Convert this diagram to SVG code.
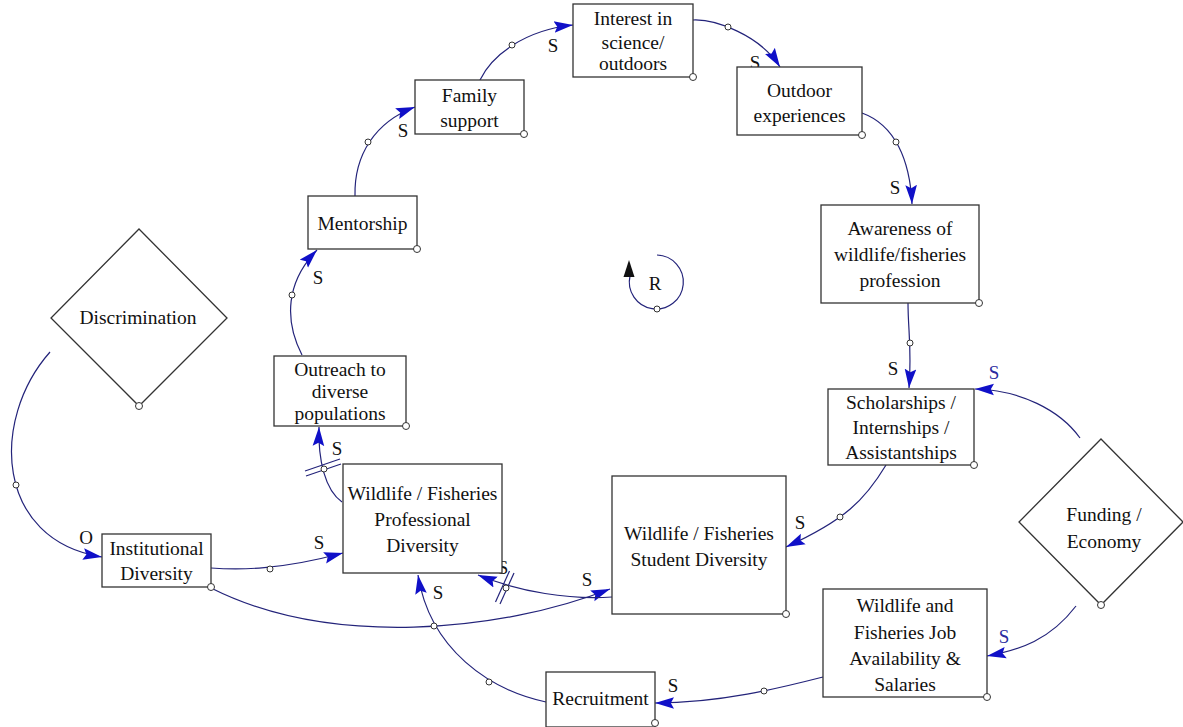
<svg xmlns="http://www.w3.org/2000/svg" width="1183" height="727" viewBox="0 0 1183 727">
<style>
.box{fill:#fff;stroke:#333;stroke-width:1.3}
.t{font-size:19.5px;fill:#111;text-anchor:middle}
.lbl{font-size:19px;fill:#111;text-anchor:middle}
.lblb{font-size:19px;fill:#2a2aa0;text-anchor:middle}
.c{fill:none;stroke:#23237a;stroke-width:1.2;marker-end:url(#ah)}
.n{fill:none;stroke:#23237a;stroke-width:1.2}
.dot{fill:#fff;stroke:#333;stroke-width:1}
.dl{stroke:#23237a;stroke-width:1.2}
</style>
<defs>
<marker id="ah" markerUnits="userSpaceOnUse" markerWidth="19" markerHeight="13" viewBox="0 0 18 12" refX="18" refY="6" orient="auto">
<path d="M0,0.5 L18,6 L0,11.5 L3,6 z" fill="#1010c8"/>
</marker>
</defs>
<rect width="1183" height="727" fill="#fff"/>

<g font-family="Liberation Serif, DejaVu Serif, serif">
<g id="connectors">
<!-- Mentorship -> Family support -->
<path class="c" d="M355,196 C354,155 375,122 415,107"/>
<circle class="dot" cx="368" cy="142" r="3"/>
<text class="lbl" x="403" y="137">S</text>
<!-- Family support -> Interest -->
<path class="c" d="M480,80 C492,55 525,30 573,25"/>
<circle class="dot" cx="512" cy="45" r="3"/>
<text class="lbl" x="553" y="52">S</text>
<!-- Interest -> Outdoor -->
<path class="c" d="M693,20 C715,19 760,35 780,67"/>
<circle class="dot" cx="728" cy="27" r="3"/>
<text class="lbl" x="755" y="69">S</text>
<!-- Outdoor -> Awareness -->
<path class="c" d="M862,113 C895,125 910,160 912,204"/>
<circle class="dot" cx="896" cy="142" r="3"/>
<text class="lbl" x="895" y="194">S</text>
<!-- Awareness -> Scholarships -->
<path class="c" d="M908,303 C908,330 912,350 909,388"/>
<circle class="dot" cx="910" cy="343" r="3"/>
<text class="lbl" x="893" y="375">S</text>
<!-- Funding -> Scholarships -->
<path class="c" d="M1080,438 C1060,410 1020,390 975,389"/>
<text class="lblb" x="994" y="379">S</text>
<!-- Scholarships -> Student Diversity -->
<path class="c" d="M886,465 C865,500 845,520 786,547"/>
<circle class="dot" cx="840" cy="517" r="3"/>
<text class="lbl" x="800" y="529">S</text>
<!-- Funding -> Job -->
<path class="c" d="M1076,606 C1050,640 1020,650 987,656"/>
<text class="lblb" x="1004" y="643">S</text>
<!-- Job -> Recruitment -->
<path class="c" d="M823,677 C780,688 720,703 655,703"/>
<circle class="dot" cx="764" cy="691" r="3"/>
<text class="lbl" x="673" y="692">S</text>
<!-- Recruitment -> Professional -->
<path class="c" d="M546,702 C490,690 430,650 418,575"/>
<circle class="dot" cx="489" cy="682" r="3"/>
<text class="lbl" x="438" y="599">S</text>
<!-- Institutional -> Professional -->
<path class="c" d="M211,568 C240,570 280,570 343,553"/>
<circle class="dot" cx="270" cy="569" r="3"/>
<text class="lbl" x="319" y="549">S</text>
<!-- Institutional -> Student -->
<path class="c" d="M211,588 C330,648 500,632 610,589"/>
<circle class="dot" cx="434" cy="626" r="3"/>
<text class="lbl" x="587" y="586">S</text>
<!-- Student -> Professional (delay) -->
<path class="c" d="M612,597 C570,600 520,592 478,575"/>
<line class="dl" x1="500" y1="604" x2="514" y2="573"/>
<line class="dl" x1="495.5" y1="602" x2="509.5" y2="571"/>
<circle class="dot" cx="506" cy="588" r="3"/>
<text class="lbl" x="503" y="574">S</text>
<!-- Professional -> Outreach (delay) -->
<path class="c" d="M342,502 C325,490 318,460 319,427"/>
<line class="dl" x1="306" y1="476" x2="341" y2="464"/>
<line class="dl" x1="305" y1="471" x2="340" y2="459"/>
<circle class="dot" cx="324" cy="469" r="3"/>
<text class="lbl" x="337" y="455">S</text>
<!-- Outreach -> Mentorship -->
<path class="c" d="M302,355 C284,320 286,282 317,250"/>
<circle class="dot" cx="292" cy="295" r="3"/>
<text class="lbl" x="318" y="284">S</text>
<!-- Discrimination -> Institutional -->
<path class="c" d="M50,352 C-10,420 -5,540 102,557"/>
<circle class="dot" cx="16" cy="485" r="3"/>
<text class="lbl" x="86" y="544">O</text>
</g>

<g id="loop-R">
<path class="n" d="M657,255 A27,27 0 1 1 630,276" stroke="#222"/>
<polygon points="629,260 623.5,277 634.5,277" fill="#111"/>
<circle class="dot" cx="657" cy="309" r="3"/>
<text class="lbl" x="655" y="290">R</text>
</g>

<g id="interest">
<rect class="box" x="573" y="4" width="120" height="73"/>
<text class="t" x="633" y="25">Interest in</text>
<text class="t" x="633" y="49">science/</text>
<text class="t" x="633" y="70">outdoors</text>
<circle class="dot" cx="693" cy="77" r="3.5"/>
</g>
<g id="family">
<rect class="box" x="415" y="80" width="109" height="54"/>
<text class="t" x="469.5" y="102">Family</text>
<text class="t" x="469.5" y="127">support</text>
<circle class="dot" cx="524" cy="134" r="3.5"/>
</g>
<g id="outdoor">
<rect class="box" x="737" y="67" width="125" height="68"/>
<text class="t" x="799.5" y="97">Outdoor</text>
<text class="t" x="799.5" y="122">experiences</text>
<circle class="dot" cx="862" cy="135" r="3.5"/>
</g>
<g id="awareness">
<rect class="box" x="821" y="205" width="158" height="98"/>
<text class="t" x="900" y="235">Awareness of</text>
<text class="t" x="900" y="261">wildlife/fisheries</text>
<text class="t" x="900" y="287">profession</text>
<circle class="dot" cx="979" cy="303" r="3.5"/>
</g>
<g id="scholarships">
<rect class="box" x="828" y="389" width="146" height="76"/>
<text class="t" x="901" y="409">Scholarships /</text>
<text class="t" x="901" y="434">Internships /</text>
<text class="t" x="901" y="459">Assistantships</text>
<circle class="dot" cx="974" cy="465" r="3.5"/>
</g>
<g id="mentorship">
<rect class="box" x="308" y="196" width="109" height="53"/>
<text class="t" x="362.5" y="230">Mentorship</text>
<circle class="dot" cx="417" cy="249" r="3.5"/>
</g>
<g id="outreach">
<rect class="box" x="274" y="356" width="132" height="70"/>
<text class="t" x="340" y="376">Outreach to</text>
<text class="t" x="340" y="398">diverse</text>
<text class="t" x="340" y="420">populations</text>
<circle class="dot" cx="406" cy="426" r="3.5"/>
</g>
<g id="discrimination">
<polygon class="box" points="139,229 227,318 139,406 51,318"/>
<text class="t" x="138" y="324">Discrimination</text>
<circle class="dot" cx="139" cy="406" r="3.5"/>
</g>
<g id="institutional">
<rect class="box" x="102" y="534" width="109" height="53"/>
<text class="t" x="156.5" y="555">Institutional</text>
<text class="t" x="156.5" y="580">Diversity</text>
<circle class="dot" cx="211" cy="587" r="3.5"/>
</g>
<g id="professional">
<rect class="box" x="343" y="464" width="159" height="109"/>
<text class="t" x="422.5" y="500">Wildlife / Fisheries</text>
<text class="t" x="422.5" y="526">Professional</text>
<text class="t" x="422.5" y="552">Diversity</text>
</g>
<g id="student">
<rect class="box" x="612" y="476" width="174" height="138"/>
<text class="t" x="699" y="540">Wildlife / Fisheries</text>
<text class="t" x="699" y="566">Student Diversity</text>
<circle class="dot" cx="786" cy="614" r="3.5"/>
</g>
<g id="funding">
<polygon class="box" points="1101,439 1183,522 1101,605 1019,522"/>
<text class="t" x="1104" y="521">Funding /</text>
<text class="t" x="1104" y="548">Economy</text>
<circle class="dot" cx="1101" cy="605" r="3.5"/>
</g>
<g id="jobs">
<rect class="box" x="823" y="589" width="164" height="108"/>
<text class="t" x="905" y="612">Wildlife and</text>
<text class="t" x="905" y="639">Fisheries Job</text>
<text class="t" x="905" y="665">Availability &amp;</text>
<text class="t" x="905" y="691">Salaries</text>
<circle class="dot" cx="987" cy="697" r="3.5"/>
</g>
<g id="recruitment">
<rect class="box" x="546" y="672" width="109" height="55"/>
<text class="t" x="600.5" y="705">Recruitment</text>
<circle class="dot" cx="655" cy="723" r="3.5"/>
</g>
</g>
</svg>
